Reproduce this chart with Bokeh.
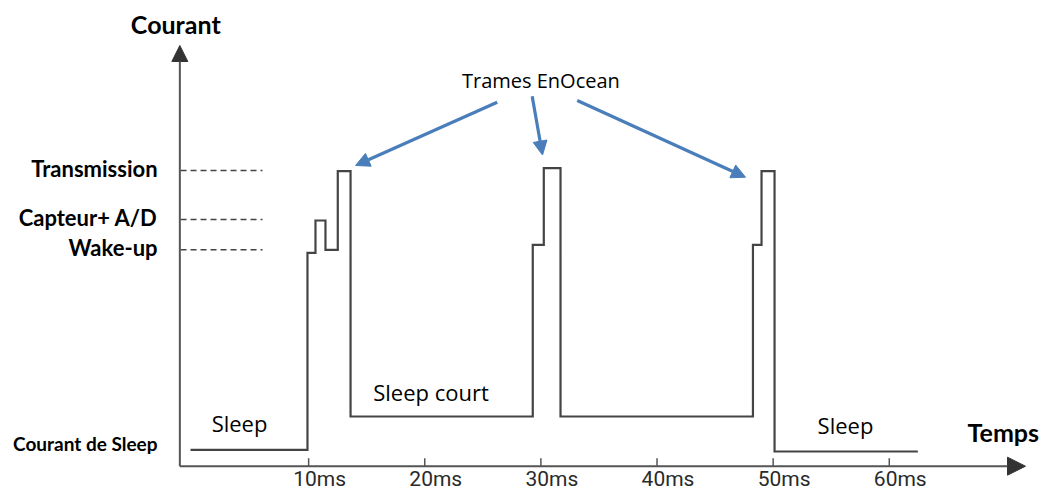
from bokeh.plotting import figure
from bokeh.models import Range1d, Arrow, NormalHead
from bokeh.core.properties import value
from bokeh.embed import file_html
from bokeh.resources import INLINE

# ---- data (time in ms, current in arbitrary units) ----
wave_t = [-0.17, 9.90, 9.90, 10.59, 10.59, 11.45, 11.45, 12.51, 12.51, 13.61, 13.61,
          29.30, 29.30, 30.25, 30.25, 31.69, 31.69,
          48.26, 48.26, 49.00, 49.00, 50.12, 50.12, 62.46]
wave_i = [1.64, 1.64, 21.34, 21.34, 24.57, 24.57, 21.64, 21.64, 29.50, 29.50, 4.97,
          4.97, 22.14, 22.14, 29.80, 29.80, 4.97,
          4.97, 22.14, 22.14, 29.50, 29.50, 1.47, 1.47]

level_names = ["Transmission", "Capteur+ A/D", "Wake-up"]
level_values = [29.57, 24.67, 21.64]

tick_values = [10, 20, 30, 40, 50, 60]
tick_labels = ["10ms", "20ms", "30ms", "40ms", "50ms", "60ms"]

phase_labels = ["Sleep", "Sleep court", "Sleep"]

# ---- layout mapping ----
W, H = 1045, 492
OFF = 0
PX_PER_MS = 11.613
X0_PX = 192.0     # image px of t = 0
Y0_PX = 465.7     # image px of i = 0
PX_PER_UNIT = 10.0

x_start = (OFF - X0_PX) / PX_PER_MS
x_end = (OFF + W - X0_PX) / PX_PER_MS
y_end = (Y0_PX - OFF) / PX_PER_UNIT
y_start = (Y0_PX - OFF - H) / PX_PER_UNIT

p = figure(width=W, height=H, output_backend="svg", toolbar_location=None,
           x_range=Range1d(x_start, x_end), y_range=Range1d(y_start, y_end),
           min_border=0, outline_line_color=None)
p.axis.visible = False
p.grid.visible = False
p.background_fill_color = "white"
p.border_fill_color = "white"

AX = -1.09          # y-axis position in ms
AXIS_COL = "#555555"

# axes with arrow heads
p.add_layout(Arrow(x_start=AX, y_start=0, x_end=AX, y_end=42.07,
                   line_color=AXIS_COL, line_width=2,
                   end=NormalHead(size=16, fill_color="#333333", line_color="#333333")))
p.add_layout(Arrow(x_start=AX, y_start=0, x_end=71.73, y_end=0,
                   line_color=AXIS_COL, line_width=2,
                   end=NormalHead(size=18, fill_color="#333333", line_color="#333333")))

# tick marks (pointing up into the plot) and labels
p.segment(x0=tick_values, y0=[0] * 6, x1=tick_values, y1=[0.8] * 6,
          line_color=AXIS_COL, line_width=1.5)
p.text(x=tick_values, y=[0] * 6, text=tick_labels, x_offset=11, y_offset=1,
       text_align="center", text_baseline="top",
       text_font=value("Roboto"), text_font_size="21px",
       text_color="#2a2a2a")

# dashed reference levels
for lv in level_values:
    p.line(x=[AX + 0.06, 6.03], y=[lv, lv], line_color="#444444", line_width=1.5,
           line_dash="6 4")
p.text(x=[-3.01] * 3, y=level_values, text=level_names, y_offset=-2,
       text_align="right", text_baseline="middle",
       text_font=value("Lato"), text_font_style="bold", text_font_size="22px",
       text_color="black")

# waveform
p.line(x=wave_t, y=wave_i, line_color="#444444", line_width=2.2, line_join="miter")

# phase labels
p.text(x=[4.05, 20.54, 56.23], y=[4.37, 7.47, 4.17], text=phase_labels,
       text_align="center", text_baseline="middle",
       text_font=value("Open Sans"), text_font_size="22px", text_color="black")

# axis titles and other labels
p.text(x=[-1.44], y=[44.27], text=["Courant"], text_align="center",
       text_baseline="middle", text_font=value("Lato"), text_font_style="bold",
       text_font_size="25px", text_color="black")
p.text(x=[66.74], y=[3.47], text=["Temps"], text_align="left",
       text_baseline="middle", text_font=value("Lato"), text_font_style="bold",
       text_font_size="25px", text_color="black")
p.text(x=[-3.01], y=[2.27], text=["Courant de Sleep"], text_align="right",
       text_baseline="middle", text_font=value("Lato"), text_font_style="bold",
       text_font_size="19px", text_color="black")
p.text(x=[30.0], y=[38.57], text=["Trames EnOcean"], text_align="center",
       text_baseline="middle", text_font=value("Open Sans"), text_font_size="20px",
       text_color="black")

# blue arrows towards the EnOcean frames
BLUE = "#4a7ebb"
arrows = [((26.24, 36.4), (14.04, 30.07)),
          ((29.25, 37.0), (30.14, 31.12)),
          ((33.13, 36.57), (47.62, 28.9))]
for (xs, ys), (xe, ye) in arrows:
    p.add_layout(Arrow(x_start=xs, y_start=ys, x_end=xe, y_end=ye,
                       line_color=BLUE, line_width=3.2,
                       end=NormalHead(size=14, fill_color=BLUE, line_color=BLUE)))

open("out.html", "w").write(file_html(p, INLINE))
